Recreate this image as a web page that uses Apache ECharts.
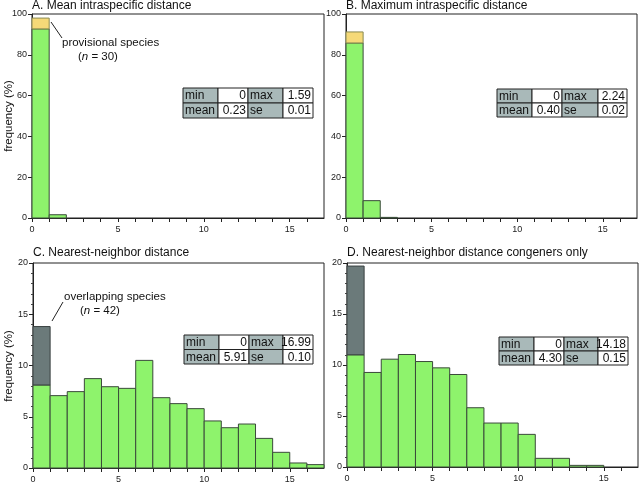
<!DOCTYPE html>
<html><head><meta charset="utf-8">
<script src="https://cdn.jsdelivr.net/npm/echarts@6/dist/echarts.min.js"></script>
<style>html,body{margin:0;padding:0;background:#fff}#c{width:640px;height:483px}</style>
</head><body><div id="c"></div>
<script>
// ---- data (percent frequency per 1-unit distance bin, bins start at 0) ----
const panelTitles = ['A. Mean intraspecific distance','B. Maximum intraspecific distance','C. Nearest-neighbor distance','D. Nearest-neighbor distance congeners only'];
const yAxisTitle = 'frequency (%)';
const aGreen = [92.7, 1.6];
const aProvisional = [5.3];
const bGreen = [85.8, 8.5, 0.3];
const bProvisional = [5.4];
const cGreen = [8.1, 7.06, 7.45, 8.72, 7.93, 7.77, 10.5, 6.86, 6.28, 5.79, 4.59, 3.93, 4.29, 2.89, 1.53, 0.49, 0.33];
const cOverlap = [5.7];
const dGreen = [11.0, 9.27, 10.57, 11.03, 10.34, 9.72, 9.07, 5.81, 4.31, 4.31, 3.2, 0.85, 0.85, 0.16, 0.16];
const dOverlap = [8.7];
const statLabels = [['min','max'],['mean','se']];
const aStats = [['0','1.59'],['0.23','0.01']];
const bStats = [['0','2.24'],['0.40','0.02']];
const cStats = [['0','16.99'],['5.91','0.10']];
const dStats = [['0','14.18'],['4.30','0.15']];
const xTickLabels = ['0','5','10','15'];
const yMaxTop = 100, yIntTop = 20, yMaxBot = 20, yIntBot = 5;

// ---- styling / layout ----
const FONT = '"Liberation Sans", Arial, Helvetica, sans-serif';
const GREEN = '#8ef36c', YELLOW = '#f5d978', DARK = '#6b7a7a', CELL = '#a9b9b9';
const grids = [
  {left:32, top:14, width:292, height:204},
  {left:346, top:14, width:291, height:204},
  {left:33, top:263, width:291, height:205},
  {left:347, top:263, width:291, height:204}
];

function toGreenData(arr){ return arr.map((v,i)=>[i, i+1, 0, v]); }
function toExtraData(extra, green){ return extra.map((v,i)=>[i, i+1, green[i], green[i]+v]); }
function renderer(fill, stroke){
  return function(params, api){
    const p0 = api.coord([api.value(0), api.value(3)]);
    const p1 = api.coord([api.value(1), api.value(2)]);
    return {type:'rect', shape:{x:p0[0], y:p0[1], width:p1[0]-p0[0], height:p1[1]-p0[1]},
      style:{fill:fill, stroke:stroke, lineWidth:1}};
  };
}

const greens = [aGreen, bGreen, cGreen, dGreen];
const extras = [aProvisional, bProvisional, cOverlap, dOverlap];
const extraColors = [YELLOW, YELLOW, DARK, DARK];

const xAxes = grids.map((g,i)=>({
  type:'value', gridIndex:i, min:0, max:17, interval:1,
  axisLine:{show:true, onZero:false, lineStyle:{color:'#222', width:1}},
  axisTick:{show:true, length:4, lineStyle:{color:'#222'}},
  splitLine:{show:false},
  axisLabel:{fontSize:9, color:'#222', fontFamily:FONT, margin:7,
    formatter:v=> xTickLabels.indexOf(String(v))>=0 ? String(v) : '', showMaxLabel:false}
}));
const yAxes = grids.map((g,i)=>({
  type:'value', gridIndex:i, min:0, max: i<2?yMaxTop:yMaxBot, interval: i<2?yIntTop:yIntBot,
  axisLine:{show:true, lineStyle:{color:'#222', width:1}},
  axisTick:{show:true, length:4, lineStyle:{color:'#222'}},
  minorTick:{show: i>=2, splitNumber:5, length:2, lineStyle:{color:'#444'}},
  splitLine:{show:false},
  axisLabel:{fontSize:9, color:'#222', fontFamily:FONT, margin:5}
}));

const series = [];
for (let i=0;i<4;i++){
  series.push({type:'custom', xAxisIndex:i, yAxisIndex:i, renderItem:renderer(GREEN,'#3a4a3a'),
    data:toGreenData(greens[i]), encode:{x:[0,1], y:[2,3]}, silent:true});
  series.push({type:'custom', xAxisIndex:i, yAxisIndex:i, renderItem:renderer(extraColors[i], i<2?'#8a8a50':'#3a4040'),
    data:toExtraData(extras[i], greens[i]), encode:{x:[0,1], y:[2,3]}, silent:true});
}

// ---- graphics: titles, axis titles, stat tables, annotations ----
const graphic = [];
const titlePos = [[32,6],[346,6],[33,253],[347,253]];
panelTitles.forEach((t,i)=>graphic.push({type:'text', x:titlePos[i][0], y:titlePos[i][1],
  style:{text:t, font:'12px '+FONT, fill:'#111', verticalAlign:'middle'}}));
[[9,116],[9,366]].forEach(p=>graphic.push({type:'text', x:p[0], y:p[1], rotation:Math.PI/2,
  style:{text:yAxisTitle, font:'11.5px '+FONT, fill:'#111', align:'center', verticalAlign:'middle'}}));

function table(x, y, widths, rowH, values){
  const cols = [0, widths[0], widths[0]+widths[1], widths[0]+widths[1]+widths[2]];
  for (let r=0;r<2;r++){
    for (let c=0;c<4;c++){
      const isLabel = (c%2===0);
      const text = isLabel ? statLabels[r][c/2] : values[r][(c-1)/2];
      const cx = x+cols[c], cy = y+r*rowH;
      graphic.push({type:'rect', shape:{x:cx, y:cy, width:widths[c], height:rowH},
        style:{fill: isLabel?CELL:'#fff', stroke:'#222', lineWidth:1}});
      graphic.push({type:'text', x: isLabel ? cx+2 : cx+widths[c]-2, y: cy+rowH/2+0.5,
        style:{text:text, font:'12px '+FONT, fill:'#111', align: isLabel?'left':'right', verticalAlign:'middle'}});
    }
  }
}
table(183, 88, [35,30,35,30], 15, aStats);
table(497, 89, [35,30,36,29], 14, bStats);
table(184, 335, [35,30,34,30], 14.5, cStats);
table(499, 337, [35,30,34,30], 14, dStats);

function annotation(lx0, ly0, lx1, ly1, tx, ty, line1, nval){
  graphic.push({type:'line', shape:{x1:lx0, y1:ly0, x2:lx1, y2:ly1}, style:{stroke:'#222', lineWidth:1}});
  graphic.push({type:'text', x:tx, y:ty, style:{text:line1, font:'11.5px '+FONT, fill:'#111', verticalAlign:'middle'}});
  graphic.push({type:'text', x:tx+16, y:ty+14, style:{text:'({i|n} = '+nval+')', font:'11.5px '+FONT, fill:'#111', verticalAlign:'middle',
    rich:{i:{fontStyle:'italic', fontSize:11.5, fontFamily:FONT, fill:'#111'}}}});
}
annotation(51, 22, 62, 38, 62, 43, 'provisional species', 30);
annotation(52, 321, 63, 302, 64, 297, 'overlapping species', 42);

const chart = echarts.init(document.getElementById('c'), null, {renderer:'canvas'});
chart.setOption({
  animation:false,
  textStyle:{fontFamily:FONT},
  grid: grids.map(g=>Object.assign({show:true, borderColor:'#222', borderWidth:1, backgroundColor:'transparent',
    containLabel:false, outerBoundsMode:'none'}, g)),
  xAxis:xAxes, yAxis:yAxes, series:series, graphic:graphic
});
</script></body></html>
